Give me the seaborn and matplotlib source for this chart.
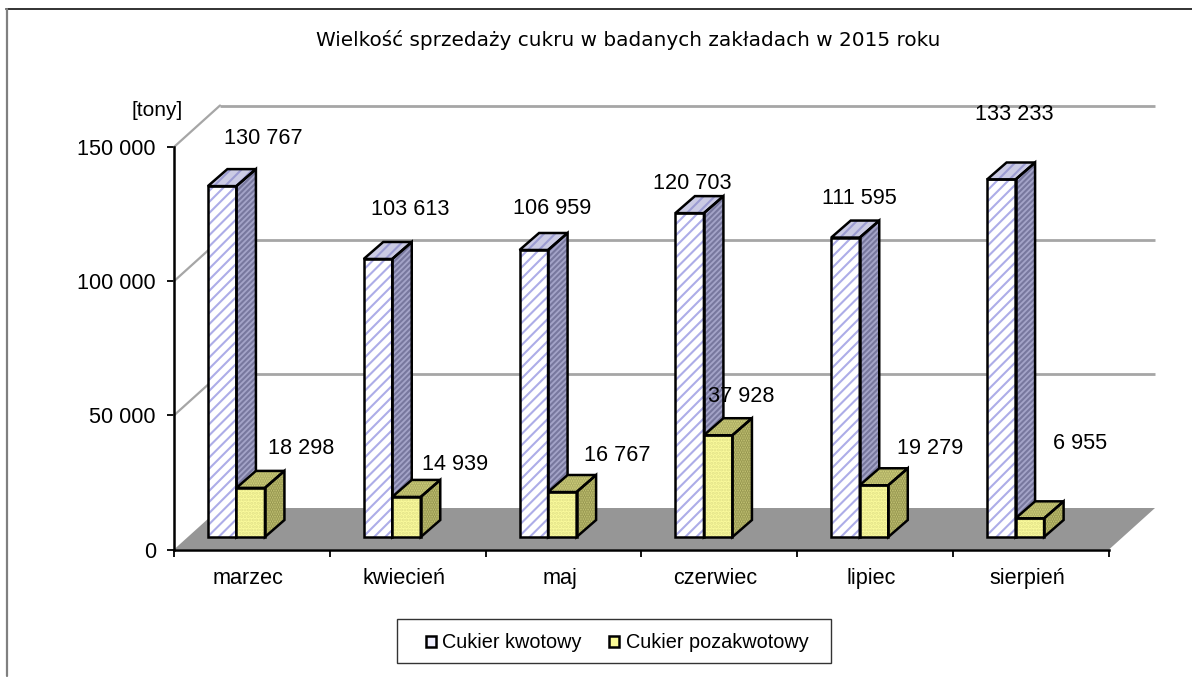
import matplotlib
matplotlib.use("Agg")
import matplotlib.pyplot as plt
from matplotlib.lines import Line2D
from matplotlib.patches import Patch, Polygon, Rectangle
from matplotlib.transforms import Affine2D
import pandas as pd
import seaborn as sns

months = ["marzec", "kwiecień", "maj", "czerwiec", "lipiec", "sierpień"]
quota = [130767, 103613, 106959, 120703, 111595, 133233]
nonquota = [18298, 14939, 16767, 37928, 19279, 6955]
series_names = ["Cukier kwotowy", "Cukier pozakwotowy"]
y_ticks = [0, 50000, 100000, 150000]
title = "Wielkość sprzedaży cukru w badanych zakładach w 2015 roku"
unit = "[tony]"

# label offsets from the front-top centre of each bar, in pixels
quota_label_dx = [41, 32, 18, 3, 14, 13]
quota_label_dy = [48, 49, 41, 30, 39, 65]
nonquota_label_dx = [51, 49, 55, 23, 56, 50]
nonquota_label_dy = [39, 32, 37, 39, 37, 75]

W, H = 1192, 677
sns.set_theme(style="white", rc={"hatch.linewidth": 1.5})
plt.rcParams["font.family"] = ["Liberation Sans", "DejaVu Sans"]

fig = plt.figure(figsize=(W / 100, H / 100), dpi=100, facecolor="white")
L, R, Y0, Y150 = 174, 1109, 549.5, 147
ax = fig.add_axes([L / W, 1 - Y0 / H, (R - L) / W, (Y0 - Y150) / H])
ax.patch.set_alpha(0)

df = pd.DataFrame({
    "month": months * 2,
    "tons": quota + nonquota,
    "kind": [series_names[0]] * 6 + [series_names[1]] * 6,
})
sns.barplot(data=df, x="month", y="tons", hue="kind", hue_order=series_names,
            order=months, width=0.366, gap=0, legend=False, ax=ax,
            palette=["white", "#FAFA96"], saturation=1)
ax.set_xlim(-0.5, 5.5)
ax.set_ylim(0, 150000)

# Offsets for the pseudo-3D projection
WALL_DX, WALL_DY = 46, 41.5
BAR_SHIFT_X, BAR_SHIFT_Y = -15.5, 12.5
DEPTH_X, DEPTH_Y = 19.5, 17

wall = ax.transData + Affine2D().translate(WALL_DX, WALL_DY)
shift = ax.transData + Affine2D().translate(BAR_SHIFT_X, BAR_SHIFT_Y)

# Floor
fx0, fy0 = ax.transData.transform((-0.5, 0))
fx1, _ = ax.transData.transform((5.5, 0))
ax.add_patch(Polygon([[fx0, fy0], [fx0 + WALL_DX, fy0 + WALL_DY],
                      [fx1 + WALL_DX, fy0 + WALL_DY], [fx1, fy0]],
                     closed=True, fc="#969696", ec="none", zorder=0.5,
                     transform=Affine2D(), clip_on=False))

# Gridlines on the back wall plus diagonals on the side wall
for v in y_ticks[1:]:
    ax.plot([-0.5, 5.5], [v, v], transform=wall, color="#A6A6A6", lw=2,
            zorder=0.6, clip_on=False, solid_capstyle="butt")
    x0, y0 = ax.transData.transform((-0.5, v))
    ax.add_line(Line2D([x0, x0 + WALL_DX], [y0, y0 + WALL_DY], transform=Affine2D(),
                       color="#A6A6A6", lw=1.6, zorder=0.6, clip_on=False))

STYLE = {
    0: dict(front=("white", "#ADADE8", "///"),
            top=("#CBCBE4", "#9C9CD2", "///"),
            side=("#A4A4C8", "#78789E", "//////")),
    1: dict(front=("#FBFB9C", "#E0E088", "....."),
            top=("#D4D47E", "#A8A860", "......."),
            side=("#C8C878", "#94944E", ".......")),
}
bars = [p for p in ax.patches if isinstance(p, Rectangle) and p.get_height() > 0]
bar_sets = [bars[:6], bars[6:12]]

for s, rects in enumerate(bar_sets):
    st = STYLE[s]
    for b in rects:
        x_a = b.get_x()
        x_b = x_a + b.get_width()
        h = b.get_height()
        pa = shift.transform((x_a, 0))
        pb = shift.transform((x_b, h))
        x1, y1, x2, y2 = pa[0], pa[1], pb[0], pb[1]
        b.set_transform(shift)
        b.set_clip_on(False)
        b.set_facecolor(st["front"][0])
        b.set_edgecolor(st["front"][1])
        b.set_hatch(st["front"][2])
        b.set_linewidth(0)
        b.set_zorder(2 + s)
        top = [[x1, y2], [x2, y2], [x2 + DEPTH_X, y2 + DEPTH_Y], [x1 + DEPTH_X, y2 + DEPTH_Y]]
        side = [[x2, y1], [x2 + DEPTH_X, y1 + DEPTH_Y], [x2 + DEPTH_X, y2 + DEPTH_Y], [x2, y2]]
        front = [[x1, y1], [x2, y1], [x2, y2], [x1, y2]]
        for pts, key in ((top, "top"), (side, "side")):
            fc, hc, ht = st[key]
            ax.add_patch(Polygon(pts, closed=True, fc=fc, ec=hc, hatch=ht, lw=0,
                                 transform=Affine2D(), clip_on=False, zorder=2 + s))
        for pts in (top, side, front):
            ax.add_patch(Polygon(pts, closed=True, fill=False, ec="black", lw=1.8,
                                 joinstyle="miter", transform=Affine2D(), clip_on=False,
                                 zorder=2.5 + s))


def fmt(v):
    return f"{v:,}".replace(",", " ")


for rects, vals, dxs, dys in ((bar_sets[0], quota, quota_label_dx, quota_label_dy),
                              (bar_sets[1], nonquota, nonquota_label_dx, nonquota_label_dy)):
    for b, v, dx, dy in zip(rects, vals, dxs, dys):
        ax.annotate(fmt(v), xy=(b.get_x() + b.get_width() / 2, v), xycoords="data",
                    xytext=((BAR_SHIFT_X + dx) * 0.72, (BAR_SHIFT_Y + dy) * 0.72),
                    textcoords="offset points", ha="center", va="center",
                    fontsize=15.6, color="black", zorder=6, annotation_clip=False)

# Axes
for side_name in ("top", "right"):
    ax.spines[side_name].set_visible(False)
for side_name in ("left", "bottom"):
    ax.spines[side_name].set_visible(True)
    ax.spines[side_name].set_color("black")
    ax.spines[side_name].set_linewidth(1.8)
    ax.spines[side_name].set_zorder(5)
ax.set_xlabel("")
ax.set_ylabel("")
ax.set_yticks(y_ticks)
ax.set_yticklabels([fmt(v) for v in y_ticks], fontsize=15.6, color="black")
ax.tick_params(axis="y", which="major", left=True, length=5, width=1.3, color="black", pad=8)
ax.set_xticks([i - 0.5 for i in range(7)])
ax.set_xticklabels([""] * 7)
ax.tick_params(axis="x", which="major", bottom=True, length=5, width=1.3, color="black")
ax.set_xticks([i - 0.025 for i in range(6)], minor=True)
ax.set_xticklabels(months, minor=True, fontsize=15.6, color="black")
ax.tick_params(axis="x", which="minor", bottom=False, pad=9)

# Texts
fig.text(628 / W, 1 - 40 / H, title, ha="center", va="center", fontsize=14.4,
         family=["DejaVu Sans"], color="black")
fig.text(157 / W, 1 - 110 / H, unit, ha="center", va="center", fontsize=15, color="black")

# Outer frame: top dark line and left grey line
fig.add_artist(Line2D([6 / W, 1], [1 - 9 / H, 1 - 9 / H], color="#222222", lw=1.3,
                      transform=fig.transFigure))
fig.add_artist(Line2D([6.5 / W, 6.5 / W], [1 - 9 / H, 1 / H], color="#808080", lw=1.6,
                      transform=fig.transFigure))

# Legend
fig.add_artist(Rectangle((397 / W, 1 - 663 / H), 434 / W, 44 / H, fc="white", ec="#333333",
                         lw=1, transform=fig.transFigure))
handles = [Patch(fc="#F0F0FF", ec="black", lw=1.8), Patch(fc="#FAFA96", ec="black", lw=1.8)]
leg = fig.legend(handles, series_names, loc="center", bbox_to_anchor=(617 / W, 1 - 643 / H),
                 ncol=2, frameon=False, fontsize=14.3, handlelength=0.5, handleheight=0.5,
                 handletextpad=0.35, columnspacing=1.35, borderpad=0, labelcolor="black")
leg.set_zorder(10)

fig.savefig("out.png", dpi=100, facecolor="white")
